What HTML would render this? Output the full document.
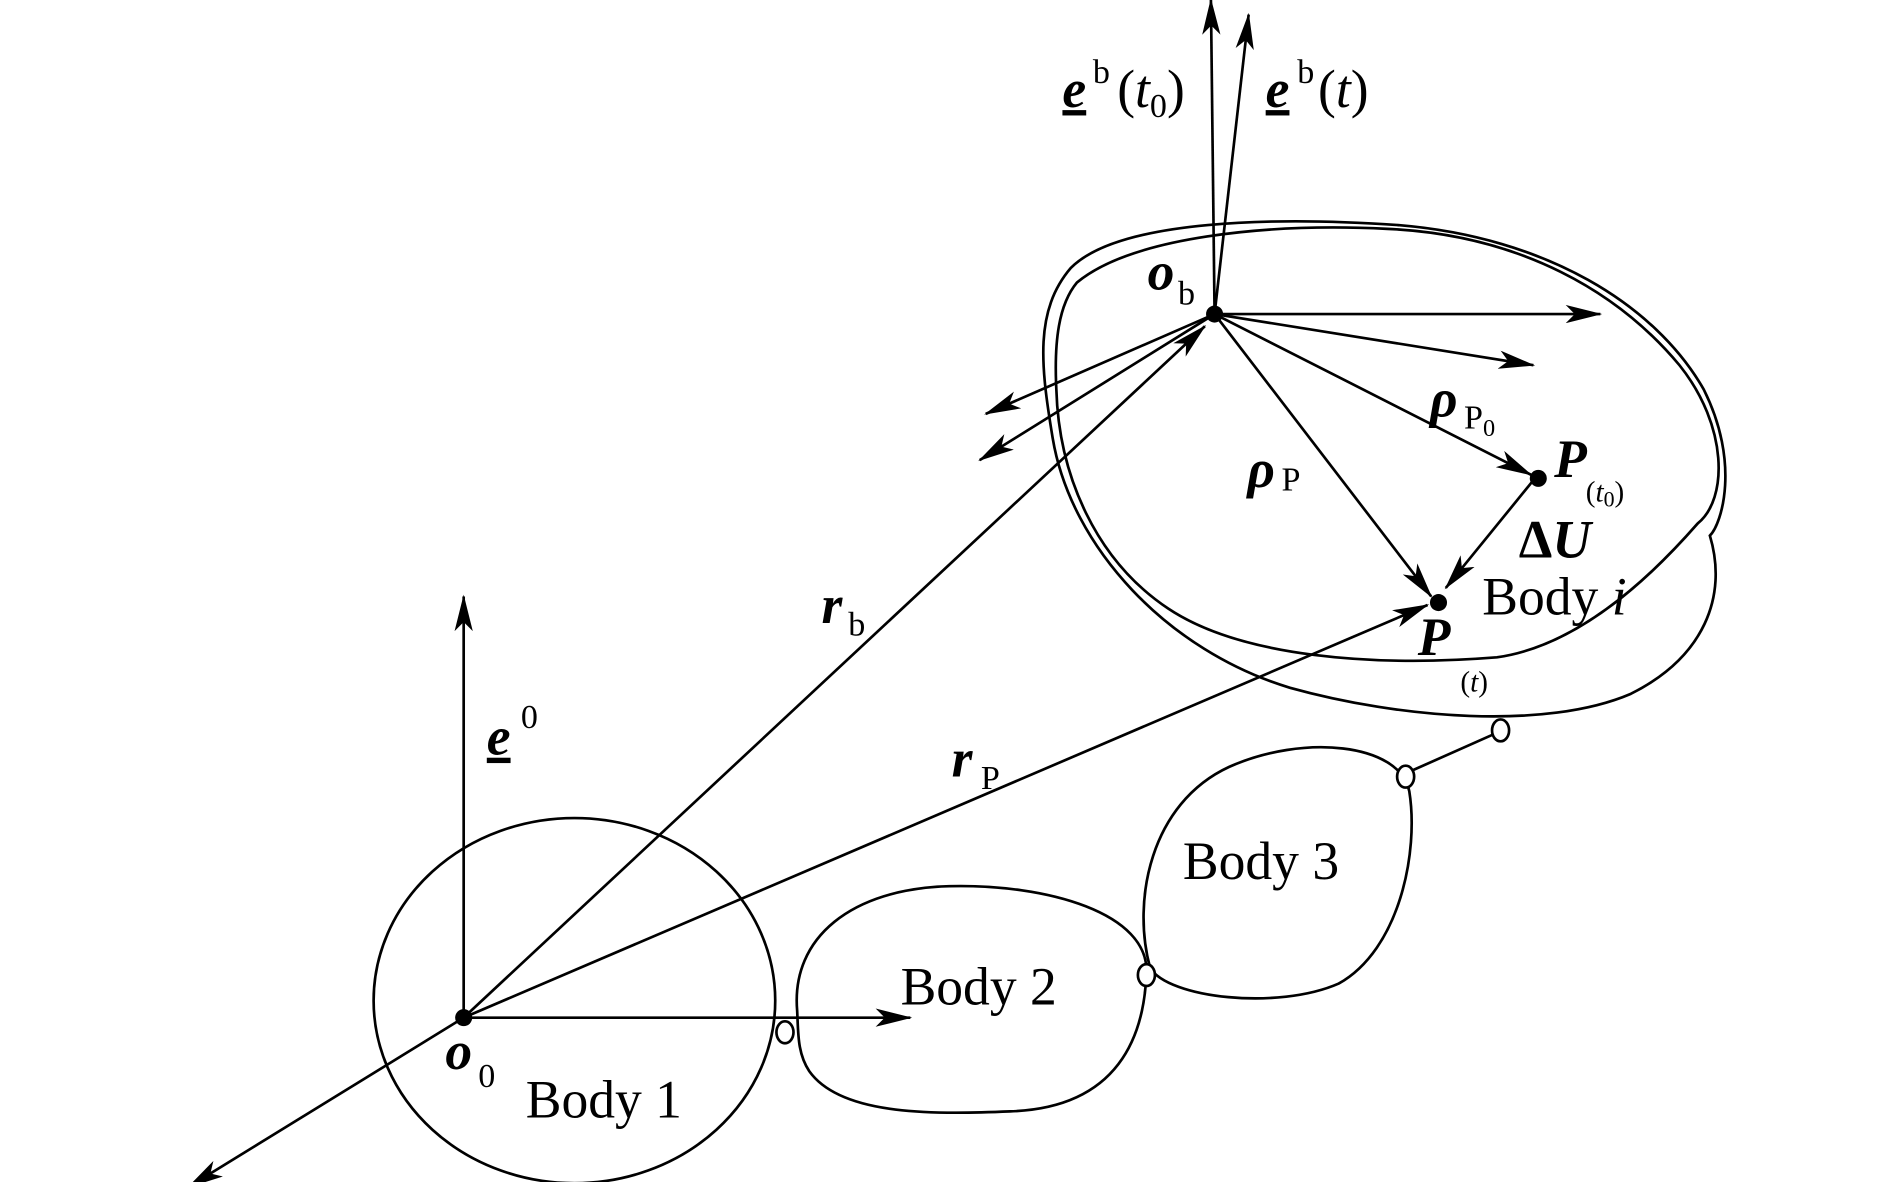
<!DOCTYPE html>
<html><head><meta charset="utf-8"><style>
html,body{margin:0;padding:0;background:#fff;}
svg{display:block}
text{font-family:"Liberation Serif",serif;fill:#000}
</style></head><body>
<svg width="1890" height="1182" viewBox="0 0 1553 971" preserveAspectRatio="none" xmlns="http://www.w3.org/2000/svg">
<defs>
<marker id="a" viewBox="0 0 20 10" refX="19" refY="5" markerWidth="30" markerHeight="15" markerUnits="userSpaceOnUse" orient="auto">
<path d="M0,0 L20,5 L0,10 L5,5 Z" fill="#000"/>
</marker>
</defs>
<g fill="none" stroke="#000" stroke-width="2.2">
<!-- Body 1 -->
<ellipse cx="472" cy="822" rx="165" ry="150"/>
<!-- Body 2 -->
<path d="M655,830 C650,770 700,730 780,728 C860,726 945,750 942,800 C940,850 920,910 830,913 C760,916 690,915 665,880 C655,865 656,848 655,830 Z"/>
<!-- Body 3 -->
<path d="M945,795 C930,740 945,660 1010,630 C1070,603 1150,610 1158,650 C1166,700 1150,780 1100,808 C1050,830 960,820 945,795 Z"/>
<!-- joints -->
<ellipse cx="645" cy="848" rx="7" ry="9" fill="#fff"/>
<ellipse cx="942" cy="801" rx="7" ry="9" fill="#fff"/>
<line x1="1158" y1="634" x2="1230" y2="602"/>
<ellipse cx="1155" cy="638" rx="7" ry="9" fill="#fff"/>
<ellipse cx="1233" cy="600" rx="7" ry="9" fill="#fff"/>
<!-- Body i outer shapes -->
<path d="M880,220 C920,180 1050,178 1150,185 C1270,195 1360,250 1400,320 C1430,380 1415,430 1405,440 C1420,490 1400,540 1340,570 C1270,600 1150,590 1060,565 C960,535 880,450 865,360 C855,300 850,255 880,220 Z"/>
<path d="M885,232 C930,195 1040,183 1140,188 C1250,193 1330,240 1380,300 C1420,350 1420,410 1395,430 C1360,470 1300,530 1230,540 C1130,548 1020,540 960,500 C900,460 870,390 868,320 C866,280 870,250 885,232 Z"/>
<!-- axes at o0 -->
<line x1="381" y1="836" x2="381" y2="490" marker-end="url(#a)"/>
<line x1="381" y1="836" x2="748" y2="836" marker-end="url(#a)"/>
<line x1="381" y1="836" x2="155" y2="975" marker-end="url(#a)"/>
<line x1="381" y1="836" x2="990" y2="268" marker-end="url(#a)"/>
<line x1="381" y1="836" x2="1173" y2="497" marker-end="url(#a)"/>
<!-- frame at ob -->
<line x1="998" y1="258" x2="995" y2="0" marker-end="url(#a)"/>
<line x1="998" y1="258" x2="1026" y2="12" marker-end="url(#a)"/>
<line x1="998" y1="258" x2="1315" y2="258" marker-end="url(#a)"/>
<line x1="998" y1="258" x2="1260" y2="300" marker-end="url(#a)"/>
<line x1="998" y1="258" x2="1258" y2="390" marker-end="url(#a)"/>
<line x1="998" y1="258" x2="1176" y2="490" marker-end="url(#a)"/>
<line x1="998" y1="258" x2="810" y2="340" marker-end="url(#a)"/>
<line x1="998" y1="258" x2="805" y2="378" marker-end="url(#a)"/>
<line x1="1262" y1="392" x2="1188" y2="483" marker-end="url(#a)"/>
</g>
<g fill="#000">
<circle cx="381" cy="836" r="7"/>
<circle cx="998" cy="258" r="7"/>
<circle cx="1264" cy="393" r="7"/>
<circle cx="1182" cy="495" r="7"/>
</g>
<g font-size="44">
<text x="432" y="918">Body 1</text>
<text x="740" y="825">Body 2</text>
<text x="972" y="722">Body 3</text>
<text x="1218" y="505">Body <tspan font-style="italic">i</tspan></text>
</g>
<g font-size="44" font-weight="bold" font-style="italic">
<text x="366" y="878">o</text>
<text x="943" y="238">o</text>
<text x="400" y="620" text-decoration="underline">e</text>
<text x="873" y="88" text-decoration="underline">e</text>
<text x="1040" y="88" text-decoration="underline">e</text>
<text x="675" y="512">r</text>
<text x="782" y="638">r</text>
<text x="1175" y="342">ρ</text>
<text x="1025" y="400">ρ</text>
<text x="1277" y="392">P</text>
<text x="1165" y="538">P</text>
<text x="1248" y="458"><tspan font-style="normal">Δ</tspan>U</text>
</g>
<g font-size="28">
<text x="393" y="893">0</text>
<text x="968" y="250">b</text>
<text x="428" y="598">0</text>
<text x="898" y="68">b</text>
<text x="1066" y="68">b</text>
<text x="697" y="522">b</text>
<text x="806" y="648">P</text>
<text x="1203" y="352">P<tspan font-size="20" dy="6">0</tspan></text>
<text x="1053" y="403">P</text>
<text x="1303" y="412" font-size="24">(<tspan font-style="italic">t</tspan><tspan font-size="18" dy="4">0</tspan><tspan dy="-4">)</tspan></text>
<text x="1200" y="568" font-size="24">(<tspan font-style="italic">t</tspan>)</text>
</g>
<g font-size="44">
<text x="918" y="88">(<tspan font-style="italic">t</tspan><tspan font-size="28" dy="8">0</tspan><tspan dy="-8">)</tspan></text>
<text x="1083" y="88">(<tspan font-style="italic">t</tspan>)</text>
</g>
</svg>
</body></html>
